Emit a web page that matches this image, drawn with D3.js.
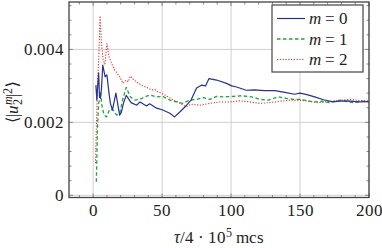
<!DOCTYPE html>
<html><head><meta charset="utf-8">
<script src="https://cdn.jsdelivr.net/npm/d3@7"></script>
<style>
@font-face{font-family:"ChartSerif";src:local("Liberation Serif"),local("LiberationSerif-Regular");font-style:normal;}
@font-face{font-family:"ChartSerif";src:local("Liberation Serif Italic"),local("LiberationSerif-Italic");font-style:italic;}
body{margin:0;background:#fff;}
text{font-family:"ChartSerif","Liberation Serif","DejaVu Serif";font-size:16.5px;fill:#222;}
</style>
</head>
<body><svg id="c" width="382" height="248"></svg>
<script>
// ---- data ----
const m0T = [2,2.7,3.3,4,4.6,5.3,6,7,8.7,10,11.5,12.5,14,16.5,19.2,20.5,22,24,27.5,31.5,34,38.7,41,46,50.5,55.6,59,63,66.5,71,75,78.5,81.5,84,89.5,96.7,100.5,104,111,117,124,131.7,139,146,150,155,160.6,167,173.7,179,184.6,192,200];
const m0V = [0.00302,0.00261,0.0030,0.00336,0.0027,0.00266,0.0029,0.00357,0.00325,0.0033,0.0028,0.00252,0.00234,0.0028,0.0022,0.00228,0.00253,0.00274,0.00254,0.00247,0.00256,0.00245,0.00251,0.00239,0.00234,0.00225,0.00215,0.00229,0.00242,0.00261,0.00294,0.00302,0.0030,0.0032,0.00316,0.00307,0.00300,0.00297,0.00288,0.00289,0.00287,0.00287,0.00282,0.00277,0.0028,0.00276,0.0027,0.00262,0.00256,0.00258,0.00259,0.00256,0.00257];
const m1T = [2.3,3.2,4,4.6,5.3,6.5,8,9.7,12,14.5,17,19.3,21.3,24,27,30,34,37.5,41,46,50.7,55.6,60.4,65,70,75,80,84.6,89.4,94,101.4,107.5,115,121,127,134,140,146,150,155,160,166,171,179,184,189,195,200];
const m1V = [0.00037,0.0019,0.00253,0.0026,0.00283,0.00242,0.0022,0.00215,0.00236,0.00234,0.0022,0.00225,0.00261,0.00296,0.0027,0.00261,0.00263,0.0027,0.00275,0.0027,0.00271,0.00261,0.00256,0.00252,0.00261,0.00263,0.00268,0.00263,0.00271,0.0027,0.00271,0.00273,0.0027,0.00263,0.00261,0.0027,0.00266,0.00263,0.00263,0.0026,0.00256,0.00258,0.00254,0.00261,0.00257,0.00254,0.00258,0.00256];
const m2T = [1.7,2.5,3.2,3.6,4.3,5,6,7.3,8.5,10,11.6,13.3,15.7,19.3,21.7,24,25.4,27,28.5,31.4,35,38.7,42.3,44.7,47,50.7,54.3,58,61.6,65,67.7,71,77.3,84.5,91.8,99,106,113.5,121,127,132,142.5,150,156,163,169,175,180,186,193,200];
const m2V = [0.00088,0.0021,0.0030,0.00335,0.0040,0.00492,0.0042,0.0037,0.0036,0.00416,0.0038,0.00362,0.00343,0.00325,0.00307,0.00316,0.00311,0.00327,0.0032,0.00311,0.00302,0.00296,0.00289,0.0029,0.00284,0.00278,0.0027,0.00261,0.00256,0.00247,0.00243,0.0025,0.00247,0.00252,0.00256,0.00256,0.00259,0.00256,0.00252,0.00254,0.00256,0.00261,0.00261,0.00258,0.00254,0.00256,0.00259,0.00261,0.00263,0.0026,0.00259];
const xTicks = [0,50,100,150,200];
const yTicks = [0,0.002,0.004];
const yTickLabels = ["0","0.002","0.004"];
const legendLabels = ["0","1","2"];

// ---- layout ----
const FSS="11.5px";
const L=69, R=369, T=2, B=197.5;
const svg=d3.select("#c");
const x=d3.scaleLinear().domain([-17.5,200]).range([L,R]);
const y=d3.scaleLinear().domain([-0.00006,0.0053]).range([B,T]);

// grid
const g=svg.append("g");
g.selectAll(".gx").data(xTicks).enter().append("line")
 .attr("x1",d=>x(d)).attr("x2",d=>x(d)).attr("y1",T).attr("y2",B)
 .attr("stroke","#d0d0d0").attr("stroke-width",1);
g.selectAll(".gy").data(yTicks).enter().append("line")
 .attr("y1",d=>y(d)).attr("y2",d=>y(d)).attr("x1",L).attr("x2",R)
 .attr("stroke","#d0d0d0").attr("stroke-width",1);

// ticks inside on all sides
const xMinor=d3.range(-10,201,10).filter(v=>!xTicks.includes(v));
const yMinor=d3.range(0,0.00531,0.0004).filter(v=>!yTicks.some(t=>Math.abs(t-v)<1e-9));
function tk(vals,len,isX){
  vals.forEach(v=>{
    if(isX){
      g.append("line").attr("x1",x(v)).attr("x2",x(v)).attr("y1",B).attr("y2",B-len).attr("stroke","#888");
      g.append("line").attr("x1",x(v)).attr("x2",x(v)).attr("y1",T).attr("y2",T+len).attr("stroke","#888");
    } else {
      g.append("line").attr("y1",y(v)).attr("y2",y(v)).attr("x1",L).attr("x2",L+len).attr("stroke","#888");
      g.append("line").attr("y1",y(v)).attr("y2",y(v)).attr("x1",R).attr("x2",R-len).attr("stroke","#888");
    }
  });
}
tk(xTicks,4,true); tk(xMinor,2.5,true); tk(yTicks,4,false); tk(yMinor,2.5,false);

// series
const line=d3.line().x(d=>x(d[0])).y(d=>y(d[1]));
const series=[
 {t:m2T,v:m2V,c:"#f22b2b",dash:"1.2,1.6",w:1.1},
 {t:m1T,v:m1V,c:"#1ea53a",dash:"3.5,2.5",w:1.3},
 {t:m0T,v:m0V,c:"#25338f",dash:null,w:1.2}
];
series.forEach(s=>{
  svg.append("path").datum(d3.zip(s.t,s.v)).attr("d",line)
   .attr("fill","none").attr("stroke",s.c).attr("stroke-width",s.w)
   .attr("stroke-dasharray",s.dash).attr("stroke-linejoin","round");
});

// frame
svg.append("rect").attr("x",L).attr("y",T).attr("width",R-L).attr("height",B-T)
 .attr("fill","none").attr("stroke","#444").attr("stroke-width",1.3);

// tick labels
xTicks.forEach(d=>{
  svg.append("text").attr("x",x(d)).attr("y",216).attr("text-anchor","middle").text(d);
});
yTicks.forEach((d,i)=>{
  svg.append("text").attr("x",64).attr("y",y(d)+5.5).attr("text-anchor","end").text(yTickLabels[i]);
});

// x label
const xl=svg.append("text").attr("x",219).attr("y",243).attr("text-anchor","middle");
xl.append("tspan").style("font-style","italic").text("τ");
xl.append("tspan").text("/4 · 10");
xl.append("tspan").style("font-size",FSS).attr("dy",-6).text("5");
xl.append("tspan").attr("dy",6).text(" mcs");

// y label
const yl=svg.append("text").attr("transform","translate(18,102) rotate(-90)").attr("text-anchor","middle");
yl.append("tspan").text("⟨|");
yl.append("tspan").style("font-style","italic").text("u");
yl.append("tspan").style("font-size",FSS).style("font-style","italic").attr("dy",-6).text("m");
yl.append("tspan").style("font-size",FSS).attr("dx",-9).attr("dy",10).text("2");
yl.append("tspan").attr("dy",-4).attr("dx",2).text("|");
yl.append("tspan").style("font-size",FSS).attr("dy",-6).text("2");
yl.append("tspan").attr("dy",6).text("⟩");

// legend
const lg=svg.append("g");
lg.append("rect").attr("x",272).attr("y",5).attr("width",91).attr("height",67)
 .attr("fill","#fff").attr("stroke","#444").attr("stroke-width",1.2);
const legS=[series[2],series[1],series[0]];
legS.forEach((s,i)=>{
  const cy=18.5+i*20.5;
  lg.append("line").attr("x1",277).attr("x2",305).attr("y1",cy).attr("y2",cy)
   .attr("stroke",s.c).attr("stroke-width",s.w).attr("stroke-dasharray",s.dash);
  const t=lg.append("text").attr("x",309).attr("y",cy+5.5);
  t.append("tspan").style("font-style","italic").text("m");
  t.append("tspan").text(" = "+legendLabels[i]);
});
</script></body></html>
